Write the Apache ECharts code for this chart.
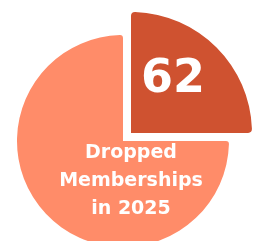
<!DOCTYPE html>
<html>
<head>
<meta charset="utf-8">
<script src="https://cdn.jsdelivr.net/npm/echarts@6/dist/echarts.min.js"></script>
<style>
  html, body { margin: 0; padding: 0; background: #fff; }
  #main { width: 256px; height: 241px; }
</style>
</head>
<body>
<div id="main"></div>
<script>
// slices: dropped memberships vs the rest
var names = ['Dropped', 'Other'];
var values = [62, 186];
var colors = ['#CF5230', '#FF8C69'];
var caption = 'Dropped\nMemberships\nin 2025';

var myChart = echarts.init(document.getElementById('main'));

var baseData = [];
for (var i = 0; i < names.length; i++) {
    baseData.push({name: names[i], value: values[i]});
}

// big slice drawn by first series, dark slice (pulled out, larger) by second
var bigData = baseData.map(function (d, i) {
    return {
        name: d.name,
        value: d.value,
        itemStyle: i === 1 ? {color: colors[1]} : {color: 'rgba(0,0,0,0)'},
        label: i === 1 ? {
            show: true,
            position: 'center',
            formatter: caption,
            offset: [8, 40]
        } : {show: false}
    };
});
var smallData = baseData.map(function (d, i) {
    return {
        name: d.name,
        value: d.value,
        itemStyle: i === 0 ? {color: colors[0]} : {color: 'rgba(0,0,0,0)'},
        label: i === 0 ? {
            show: true,
            position: 'inside',
            formatter: '{c}',
            fontSize: 46,
            offset: [-3, -8]
        } : {show: false}
    };
});

var option = {
    animation: false,
    series: [
        {
            type: 'pie',
            center: [123, 141],
            radius: [0, 106],
            startAngle: 90,
            clockwise: true,
            silent: true,
            labelLine: {show: false},
            itemStyle: {borderRadius: 3},
            label: {
                color: '#fff',
                fontFamily: 'DejaVu Sans',
                fontWeight: 'bold',
                fontSize: 19,
                lineHeight: 28,
                align: 'center'
            },
            data: bigData
        },
        {
            type: 'pie',
            center: [131, 133],
            radius: [0, 121],
            startAngle: 90,
            clockwise: true,
            silent: true,
            labelLine: {show: false},
            itemStyle: {borderRadius: 4},
            label: {
                color: '#fff',
                fontFamily: 'DejaVu Sans',
                fontWeight: 'bold'
            },
            data: smallData
        }
    ]
};
myChart.setOption(option);
</script>
</body>
</html>
